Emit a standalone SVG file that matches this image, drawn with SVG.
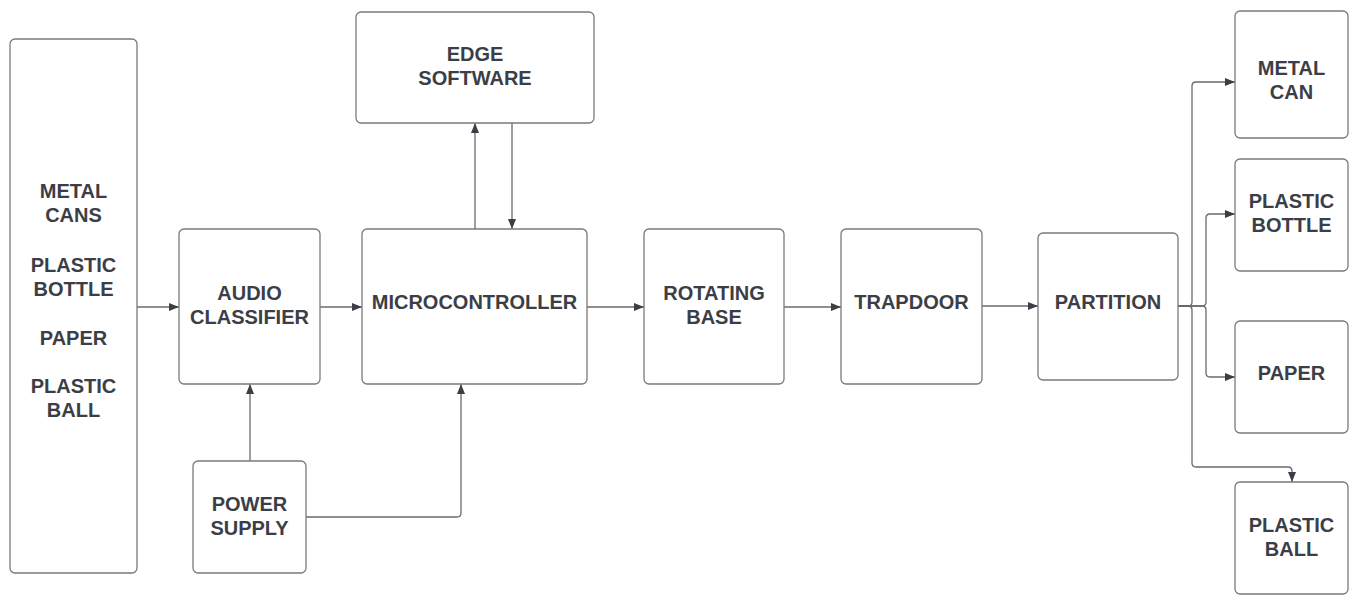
<svg xmlns="http://www.w3.org/2000/svg" width="1352" height="595" viewBox="0 0 1352 595">
<style>
.box{fill:#fff;stroke:#7a7a7a;stroke-width:1.3}
.t{font-family:"Liberation Sans",Arial,sans-serif;font-weight:bold;font-size:20px;fill:#3b3e46;text-anchor:middle}
.c{fill:none;stroke:#6a6a6a;stroke-width:1.3}
</style>
<defs>
<marker id="ah" viewBox="0 0 10 8" refX="10" refY="4" markerWidth="10" markerHeight="8" markerUnits="userSpaceOnUse" orient="auto">
<path d="M0,0 L10,4 L0,8 Z" fill="#3b3e46"/>
</marker>
</defs>
<rect width="1352" height="595" fill="#fff"/>
<g id="connectors">
<path class="c" d="M137,307 H179" marker-end="url(#ah)"/>
<path class="c" d="M320,307 H362" marker-end="url(#ah)"/>
<path class="c" d="M475,229 V123" marker-end="url(#ah)"/>
<path class="c" d="M512,123 V229" marker-end="url(#ah)"/>
<path class="c" d="M587,307 H644" marker-end="url(#ah)"/>
<path class="c" d="M784,307 H841" marker-end="url(#ah)"/>
<path class="c" d="M982,306 H1038" marker-end="url(#ah)"/>
<path class="c" d="M250,461 V384" marker-end="url(#ah)"/>
<path class="c" d="M306,517 H457 Q461,517 461,513 V384" marker-end="url(#ah)"/>
<path class="c" d="M1178,306 H1188 Q1192,306 1192,302 V86 Q1192,82 1196,82 H1235" marker-end="url(#ah)"/>
<path class="c" d="M1178,306 H1188 Q1192,306 1192,310 V463 Q1192,467 1196,467 H1288 Q1292,467 1292,471 V482" marker-end="url(#ah)"/>
<path class="c" d="M1178,306 H1202 Q1206,306 1206,302 V218 Q1206,214 1210,214 H1235" marker-end="url(#ah)"/>
<path class="c" d="M1178,306 H1202 Q1206,306 1206,310 V373 Q1206,377 1210,377 H1235" marker-end="url(#ah)"/>
</g>
<g id="inputs">
<rect class="box" x="10" y="39" width="127" height="534" rx="5"/>
<text class="t" x="73.5" y="198">METAL</text>
<text class="t" x="73.5" y="222">CANS</text>
<text class="t" x="73.5" y="272">PLASTIC</text>
<text class="t" x="73.5" y="296">BOTTLE</text>
<text class="t" x="73.5" y="345">PAPER</text>
<text class="t" x="73.5" y="393">PLASTIC</text>
<text class="t" x="73.5" y="417">BALL</text>
</g>
<g id="audio-classifier">
<rect class="box" x="179" y="229" width="141" height="155" rx="5"/>
<text class="t" x="249.5" y="300">AUDIO</text>
<text class="t" x="249.5" y="324">CLASSIFIER</text>
</g>
<g id="microcontroller">
<rect class="box" x="362" y="229" width="225" height="155" rx="5"/>
<text class="t" x="474.5" y="309">MICROCONTROLLER</text>
</g>
<g id="edge-software">
<rect class="box" x="356" y="12" width="238" height="111" rx="5"/>
<text class="t" x="475" y="61">EDGE</text>
<text class="t" x="475" y="85">SOFTWARE</text>
</g>
<g id="power-supply">
<rect class="box" x="193" y="461" width="113" height="112" rx="5"/>
<text class="t" x="249.5" y="511">POWER</text>
<text class="t" x="249.5" y="535">SUPPLY</text>
</g>
<g id="rotating-base">
<rect class="box" x="644" y="229" width="140" height="155" rx="5"/>
<text class="t" x="714" y="300">ROTATING</text>
<text class="t" x="714" y="324">BASE</text>
</g>
<g id="trapdoor">
<rect class="box" x="841" y="229" width="141" height="155" rx="5"/>
<text class="t" x="911.5" y="309">TRAPDOOR</text>
</g>
<g id="partition">
<rect class="box" x="1038" y="233" width="140" height="147" rx="5"/>
<text class="t" x="1108" y="309">PARTITION</text>
</g>
<g id="metal-can">
<rect class="box" x="1235" y="11" width="113" height="127" rx="5"/>
<text class="t" x="1291.5" y="75">METAL</text>
<text class="t" x="1291.5" y="99">CAN</text>
</g>
<g id="plastic-bottle">
<rect class="box" x="1235" y="159" width="113" height="112" rx="5"/>
<text class="t" x="1291.5" y="208">PLASTIC</text>
<text class="t" x="1291.5" y="232">BOTTLE</text>
</g>
<g id="paper">
<rect class="box" x="1235" y="321" width="113" height="112" rx="5"/>
<text class="t" x="1291.5" y="380">PAPER</text>
</g>
<g id="plastic-ball">
<rect class="box" x="1235" y="482" width="113" height="112" rx="5"/>
<text class="t" x="1291.5" y="532">PLASTIC</text>
<text class="t" x="1291.5" y="556">BALL</text>
</g>
</svg>
